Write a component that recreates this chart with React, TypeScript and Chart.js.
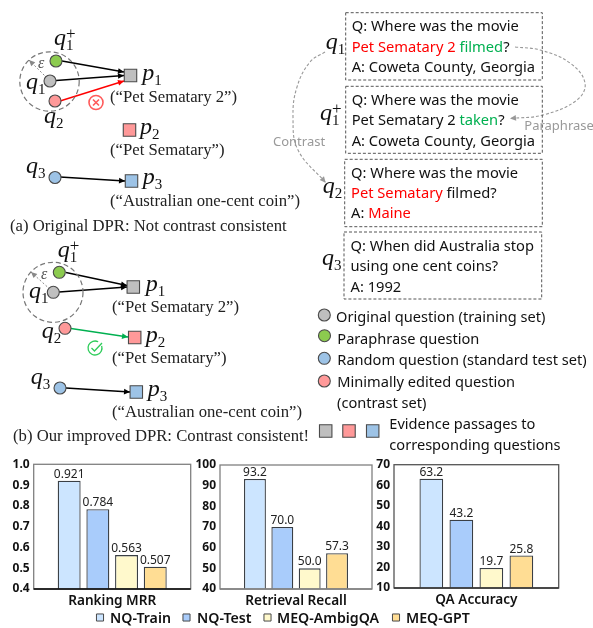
import React, { useEffect, useRef } from "react";
import { Chart, registerables } from "chart.js";

Chart.register(...registerables);

// ---- bar chart data ----
const seriesNames = ["NQ-Train", "NQ-Test", "MEQ-AmbigQA", "MEQ-GPT"];
const seriesFill = ["#CCE5FF", "#A9CCFB", "#FFF9CC", "#FFDD94"];
const metricNames = ["Ranking MRR", "Retrieval Recall", "QA Accuracy"];
const nqTrain = [0.921, 93.2, 63.2];
const nqTest = [0.784, 70.0, 43.2];
const meqAmbig = [0.563, 50.0, 19.7];
const meqGpt = [0.507, 57.3, 25.8];
const axisMin = [0.4, 40, 10];
const axisMax = [1.0, 100, 70];
const axisStep = [0.1, 10, 10];
const labelDecimals = [3, 1, 1];
const tickDecimals = [1, 0, 0];

// ---- diagram data (page coordinates) ----
const GRAY = "#BFBFBF", GREEN = "#8CCB4F", BLUE = "#9DC3E6", PINK = "#FF9999";
const circleNodes: [number, number, string][] = [
  [56, 61, GREEN], [50, 81, GRAY], [55, 101, PINK], [55, 177.5, BLUE],
  [59.3, 272.3, GREEN], [53.3, 292.3, GRAY], [65, 328.3, PINK], [60, 388, BLUE],
  [324.3, 315, GRAY], [324.5, 335.7, GREEN], [324.3, 358.3, BLUE], [324.3, 381, PINK],
];
const squareNodes: [number, number, string][] = [
  [130.5, 75.5, GRAY], [129.5, 130, PINK], [131.5, 181, BLUE],
  [133.3, 287, GRAY], [134.7, 337.5, PINK], [136.3, 392, BLUE],
  [325.7, 431, GRAY], [349, 431, PINK], [372.7, 431, BLUE],
];
const legendMarks: [number, number, string][] = [
  [100, 617.5, seriesFill[0]], [186.5, 617.5, seriesFill[1]], [267.5, 617.5, seriesFill[2]], [396, 617.5, seriesFill[3]],
];
const edges: [number, number, number, number, string][] = [
  [62, 61, 124, 72, "#000000"], [56, 80.5, 124, 75.5, "#000000"], [60, 101, 124, 81, "#FF0000"], [60, 177, 125, 181, "#000000"],
  [66, 272.5, 127, 285.5, "#000000"], [59, 292, 127, 287, "#000000"], [71, 328.5, 128, 337, "#00B050"], [66, 388, 130, 392, "#000000"],
];
const epsArrows: [number, number, number, number][] = [[50, 81, 29, 60], [53, 292, 31, 272]];
const boxes: [number, number, number, number][] = [
  [345.7, 12.7, 542.3, 80], [345.7, 86.3, 542.3, 153.3], [344.7, 159.3, 542.3, 226.7], [344, 232, 541.7, 299],
];
const contrastCurve = [[325, 52], [310, 62], [297, 87], [293, 117], [298, 150], [325.7, 182.7]];
const paraphraseCurve = [[515, 47], [540, 50], [570, 63], [585, 83], [577, 100], [543, 115], [510, 118.5]];
const dashedCircles: [number, number, number][] = [[49.5, 81.5, 29.7], [53, 292.3, 30]];

const RED = "#FF0000", GRN = "#00B050", INK = "#111111";
type Seg = [string, string];
const boxLines: [number, number, Seg[]][] = [
  [351.7, 31.3, [["Q: Where was the movie", INK]]],
  [351.7, 51.7, [["Pet Sematary 2 ", RED], ["filmed", GRN], ["?", INK]]],
  [351.7, 71.7, [["A: Coweta County, Georgia", INK]]],
  [351.7, 105, [["Q: Where was the movie", INK]]],
  [351.7, 125, [["Pet Sematary 2 ", INK], ["taken", GRN], ["?", INK]]],
  [351.7, 145.5, [["A: Coweta County, Georgia", INK]]],
  [351, 177.7, [["Q: Where was the movie", INK]]],
  [351, 198, [["Pet Sematary", RED], [" filmed?", INK]]],
  [351, 218, [["A: ", INK], ["Maine", RED]]],
  [350.5, 250.7, [["Q: When did Australia stop", INK]]],
  [350.5, 270.7, [["using one cent coins?", INK]]],
  [350.5, 291.7, [["A: 1992", INK]]],
];
const legendLines: [number, number, string][] = [
  [336, 321.7, "Original question (training set)"],
  [337.3, 343.7, "Paraphrase question"],
  [337.3, 365, "Random question (standard test set)"],
  [337.3, 387.3, "Minimally edited question"],
  [337, 408.3, "(contrast set)"],
  [389.3, 429.3, "Evidence passages to"],
  [389.3, 450, "corresponding questions"],
];
const serifLines: [number, number, string][] = [
  [110, 101.7, "(“Pet Sematary 2”)"],
  [110, 155, "(“Pet Sematary”)"],
  [110, 206, "(“Australian one-cent coin”)"],
  [10, 230.7, "(a) Original DPR: Not contrast consistent"],
  [112, 311.7, "(“Pet Sematary 2”)"],
  [112, 363, "(“Pet Sematary”)"],
  [112, 416.7, "(“Australian one-cent coin”)"],
  [13, 440.7, "(b) Our improved DPR: Contrast consistent!"],
];
const grayLabels: [number, number, string][] = [
  [273, 145.7, "Contrast"], [524.3, 130, "Paraphrase"],
];
const legendLabels: [number, string][] = [[110, seriesNames[0]], [197, seriesNames[1]], [277, seriesNames[2]], [406, seriesNames[3]]];
const mathLabels: [number, number, string, string, boolean][] = [
  [54, 45, "q", "1", true], [26, 89, "q", "1", false], [44, 123, "q", "2", false], [26, 173, "q", "3", false],
  [142.3, 80, "p", "1", false], [140, 134.3, "p", "2", false], [142.7, 184.3, "p", "3", false],
  [57.7, 257.3, "q", "1", true], [29, 297.7, "q", "1", false], [41.7, 338.3, "q", "2", false], [30.7, 384, "q", "3", false],
  [145.7, 290.7, "p", "1", false], [145.7, 342.3, "p", "2", false], [147.7, 396, "p", "3", false],
  [325.7, 49, "q", "1", false], [320, 120, "q", "1", true], [322.7, 193, "q", "2", false], [322, 265, "q", "3", false],
];
const epsLabels: [number, number][] = [[38, 68], [41, 279]];
const crossMark: [number, number] = [96, 102.5];
const checkMark: [number, number] = [95, 348];

const SANS = '"Noto Sans"';
const SERIF = '"Liberation Serif"';

const diagramPlugin = {
  id: "diagram",
  afterDatasetsDraw(chart: any) {
    const { ctx, scales: { x, y } } = chart;
    const X = (v: number) => x.getPixelForValue(v);
    const Y = (v: number) => y.getPixelForValue(v);
    ctx.save();
    // arrow heads
    chart.data.datasets.forEach((ds: any) => {
      if (!ds.arrow) return;
      const n = ds.data.length;
      const a = ds.data[n - 2], b = ds.data[n - 1];
      const ang = Math.atan2(Y(b.y) - Y(a.y), X(b.x) - X(a.x));
      ctx.save();
      ctx.translate(X(b.x), Y(b.y));
      ctx.rotate(ang);
      ctx.fillStyle = ds.borderColor;
      ctx.beginPath();
      ctx.moveTo(0, 0);
      ctx.lineTo(-6, -2.8);
      ctx.lineTo(-6, 2.8);
      ctx.closePath();
      ctx.fill();
      ctx.restore();
    });
    // dashed neighbourhood circles
    ctx.strokeStyle = "#777777";
    ctx.lineWidth = 1.2;
    ctx.setLineDash([5, 3]);
    dashedCircles.forEach(([cx, cy, r]) => {
      ctx.beginPath();
      ctx.arc(X(cx), Y(cy), r, 0, Math.PI * 2);
      ctx.stroke();
    });
    ctx.setLineDash([]);
    // cross mark
    ctx.strokeStyle = "#FF5B5B";
    ctx.lineWidth = 1.6;
    ctx.beginPath();
    ctx.arc(X(crossMark[0]), Y(crossMark[1]), 7, 0, Math.PI * 2);
    ctx.stroke();
    ctx.beginPath();
    ctx.moveTo(X(crossMark[0]) - 3, Y(crossMark[1]) - 3);
    ctx.lineTo(X(crossMark[0]) + 3, Y(crossMark[1]) + 3);
    ctx.moveTo(X(crossMark[0]) + 3, Y(crossMark[1]) - 3);
    ctx.lineTo(X(crossMark[0]) - 3, Y(crossMark[1]) + 3);
    ctx.stroke();
    // check mark
    ctx.strokeStyle = "#2ECC5A";
    ctx.lineWidth = 1.3;
    ctx.beginPath();
    ctx.arc(X(checkMark[0]), Y(checkMark[1]), 7, -Math.PI * 0.1, Math.PI * 1.65);
    ctx.stroke();
    ctx.beginPath();
    ctx.moveTo(X(checkMark[0]) - 3.5, Y(checkMark[1]));
    ctx.lineTo(X(checkMark[0]) - 0.5, Y(checkMark[1]) + 3);
    ctx.lineTo(X(checkMark[0]) + 7, Y(checkMark[1]) - 5);
    ctx.stroke();
    // text
    ctx.textBaseline = "alphabetic";
    ctx.textAlign = "left";
    ctx.font = `14.7px ${SANS}`;
    boxLines.forEach(([tx, ty, segs]) => {
      let cur = tx;
      segs.forEach(([t, c]) => {
        ctx.fillStyle = c;
        ctx.fillText(t, X(cur), Y(ty));
        cur += ctx.measureText(t + "|").width - ctx.measureText("|").width;
      });
    });
    ctx.fillStyle = INK;
    ctx.font = `14.6px ${SANS}`;
    legendLines.forEach(([tx, ty, t]) => ctx.fillText(t, X(tx), Y(ty)));
    ctx.fillStyle = "#222222";
    ctx.font = `16.7px ${SERIF}`;
    serifLines.forEach(([tx, ty, t]) => ctx.fillText(t, X(tx), Y(ty)));
    ctx.fillStyle = "#999999";
    ctx.font = `13px ${SANS}`;
    grayLabels.forEach(([tx, ty, t]) => ctx.fillText(t, X(tx), Y(ty)));
    ctx.fillStyle = "#111111";
    ctx.font = `600 14.2px ${SANS}`;
    legendLabels.forEach(([tx, t]) => ctx.fillText(t, X(tx), Y(623)));
    ctx.fillStyle = "#555555";
    ctx.font = `italic 16px ${SERIF}`;
    epsLabels.forEach(([tx, ty]) => ctx.fillText("ε", X(tx), Y(ty)));
    ctx.fillStyle = "#111111";
    mathLabels.forEach(([tx, ty, b, s, plus]) => {
      ctx.font = `italic 24px ${SERIF}`;
      ctx.fillText(b, X(tx), Y(ty));
      const w = ctx.measureText(b).width;
      ctx.font = `15px ${SERIF}`;
      ctx.fillText(s, X(tx + w), Y(ty + 5));
      if (plus) {
        ctx.font = `17px ${SERIF}`;
        ctx.fillText("+", X(tx + w), Y(ty - 6));
      }
    });
    ctx.restore();
  },
};

const barLabelPlugin = {
  id: "barFrame",
  afterDatasetsDraw(chart: any, _a: any, opts: any) {
    const { ctx, chartArea: ca } = chart;
    ctx.save();
    ctx.strokeStyle = opts.frame;
    ctx.lineWidth = 1.3;
    ctx.strokeRect(ca.left, ca.top, ca.right - ca.left, ca.bottom - ca.top);
    ctx.strokeStyle = opts.base;
    ctx.beginPath();
    ctx.moveTo(ca.left, ca.bottom);
    ctx.lineTo(ca.right, ca.bottom);
    ctx.stroke();
    ctx.fillStyle = "#222222";
    ctx.font = `12px ${SANS}`;
    ctx.textAlign = "center";
    ctx.textBaseline = "alphabetic";
    chart.data.datasets.forEach((ds: any, i: number) => {
      const el = chart.getDatasetMeta(i).data[0];
      ctx.fillText(ds.data[0].toFixed(opts.decimals), el.x, el.y - 3);
    });
    ctx.restore();
  },
};

type Geo = { left: number; top: number; w: number; h: number; yW: number; xH: number; padTop: number; padRight: number; cat: number; bar: number; frame: string; base: string };
const geometry: Geo[] = [
  { left: 0, top: 450, w: 200, h: 170, yW: 33.7, xH: 31, padTop: 14.3, padRight: 9.3, cat: 0.731, bar: 0.8, frame: "#808080", base: "#000000" },
  { left: 190, top: 450, w: 190, h: 170, yW: 30, xH: 31, padTop: 15, padRight: 8, cat: 0.72, bar: 0.8, frame: "#808080", base: "#808080" },
  { left: 365, top: 450, w: 200, h: 170, yW: 29, xH: 32, padTop: 14.7, padRight: 6.3, cat: 0.729, bar: 0.79, frame: "#555555", base: "#333333" },
];

function BarPanel({ index }: { index: number }) {
  const ref = useRef<HTMLCanvasElement>(null);
  const g = geometry[index];
  useEffect(() => {
    const rows = [nqTrain, nqTest, meqAmbig, meqGpt];
    const chart = new Chart(ref.current as HTMLCanvasElement, {
      type: "bar",
      data: {
        labels: [metricNames[index]],
        datasets: rows.map((r, i) => ({
          label: seriesNames[i],
          data: [r[index]],
          backgroundColor: seriesFill[i],
          borderColor: "#3A3F45",
          borderWidth: 1.3,
          categoryPercentage: g.cat,
          barPercentage: g.bar,
        })),
      },
      options: {
        animation: false,
        responsive: false,
        events: [],
        layout: { padding: { top: g.padTop, right: g.padRight, left: 0, bottom: 0 }, autoPadding: false },
        plugins: {
          legend: { display: false },
          tooltip: { enabled: false },
          barFrame: { frame: g.frame, base: g.base, decimals: labelDecimals[index] },
        } as any,
        scales: {
          x: {
            grid: { display: false, drawTicks: false },
            border: { display: false },
            ticks: { color: "#111111", padding: 4, maxRotation: 0, font: { family: "Noto Sans", size: 13.6, weight: "600" } },
            afterFit: (s: any) => { s.height = g.xH; },
          },
          y: {
            min: axisMin[index],
            max: axisMax[index],
            grid: { display: false, drawTicks: false },
            border: { display: false },
            ticks: {
              stepSize: axisStep[index],
              color: "#111111",
              padding: 4,
              font: { family: "Noto Sans", size: 12, weight: "bold" },
              callback: (v: any) => Number(v).toFixed(tickDecimals[index]),
            },
            afterFit: (s: any) => { s.width = g.yW; },
          },
        },
      } as any,
      plugins: [barLabelPlugin],
    });
    return () => chart.destroy();
  }, []);
  return <canvas ref={ref} width={g.w} height={g.h} style={{ position: "absolute", left: g.left, top: g.top, display: "block" }} />;
}

function Diagram() {
  const ref = useRef<HTMLCanvasElement>(null);
  useEffect(() => {
    const nodes = [
      ...circleNodes.map(([x, y, c]) => ({ x, y, c, s: "circle", r: 6 })),
      ...squareNodes.map(([x, y, c]) => ({ x, y, c, s: "rect", r: 8.8 })),
    ];
    const marks = legendMarks.map(([x, y, c]) => ({ x, y, c }));
    const pts = (a: number[][]) => a.map(([x, y]) => ({ x, y }));
    const lineDs = (data: any[], color: string, width: number, dash: number[], arrow: boolean, tension = 0) => ({
      type: "scatter", data, showLine: true, borderColor: color, borderWidth: width, borderDash: dash, pointRadius: 0, arrow, tension, fill: false,
    });
    const chart = new Chart(ref.current as HTMLCanvasElement, {
      type: "scatter",
      data: {
        datasets: [
          {
            data: nodes, showLine: false,
            pointStyle: nodes.map((n) => n.s),
            pointRadius: nodes.map((n) => n.r),
            pointBackgroundColor: nodes.map((n) => n.c),
            pointBorderColor: "#4A4A4A",
            pointBorderWidth: 1.1,
          },
          {
            data: marks, showLine: false,
            pointStyle: "rect", pointRadius: 5,
            pointBackgroundColor: marks.map((n) => n.c),
            pointBorderColor: "#4A4A4A",
            pointBorderWidth: 1,
          },
          ...edges.map(([a, b, c, d, col]) => lineDs(pts([[a, b], [c, d]]), col, 1.4, [], true)),
          ...epsArrows.map(([a, b, c, d]) => lineDs(pts([[a, b], [c, d]]), "#888888", 1, [2, 2], true)),
          ...boxes.map(([a, b, c, d]) => lineDs(pts([[a, b], [c, b], [c, d], [a, d], [a, b]]), "#555555", 1, [3, 2], false)),
          lineDs(pts(contrastCurve), "#999999", 1.1, [3, 2], true, 0.4),
          lineDs(pts(paraphraseCurve), "#999999", 1.1, [3, 2], true, 0.4),
        ] as any,
      },
      options: {
        animation: false,
        responsive: false,
        events: [],
        layout: { padding: 0, autoPadding: false },
        plugins: { legend: { display: false }, tooltip: { enabled: false } },
        scales: {
          x: { type: "linear", min: 0, max: 593, display: false },
          y: { type: "linear", min: 0, max: 628, reverse: true, display: false },
        },
      } as any,
      plugins: [diagramPlugin],
    });
    return () => chart.destroy();
  }, []);
  return <canvas ref={ref} width={593} height={628} style={{ position: "absolute", left: 0, top: 0, display: "block" }} />;
}

export default function App() {
  return (
    <div style={{ position: "fixed", left: 0, top: 0, width: 593, height: 628, overflow: "hidden", background: "#FFFFFF" }}>
      <Diagram />
      <BarPanel index={0} />
      <BarPanel index={1} />
      <BarPanel index={2} />
    </div>
  );
}
